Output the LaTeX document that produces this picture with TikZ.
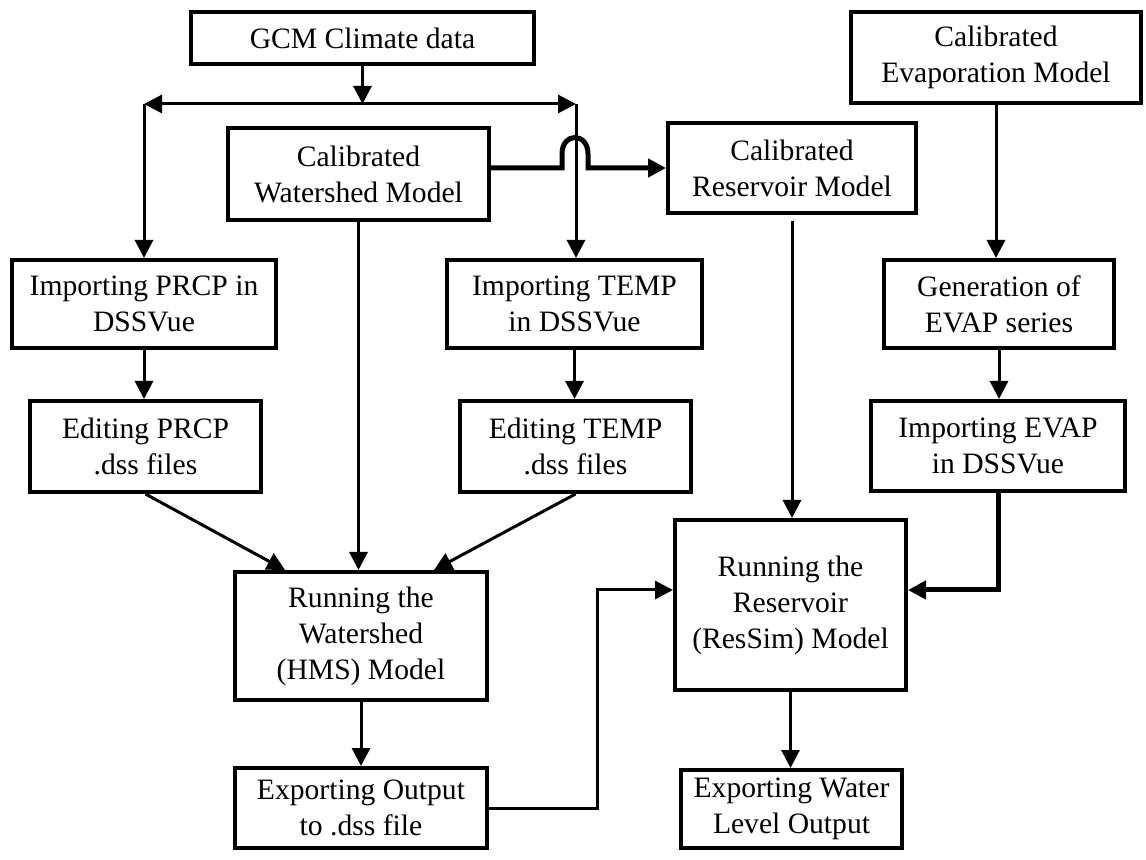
\documentclass[tikz,border=0pt]{standalone}
\usepackage{fontspec}
\setmainfont{Liberation Serif}
\usetikzlibrary{arrows.meta,calc,positioning}
\tikzset{FLOW style/.style={>={Triangle[length=9pt,width=9pt]},line width=1.5pt,
	every node/.style={font=\fontsize{14.8}{18}\selectfont}}}
\tikzset{proc/.style={draw,line width=2pt,align=center,inner sep=0pt}}
\tikzset{heavy/.style={line width=2.5pt}}

\begin{document}
\begin{tikzpicture}[x=0.5pt,y=-0.5pt,FLOW style]
	\useasboundingbox (0,0) rectangle (1146,860);

	% top row
	\node[proc,minimum width=171.5pt,minimum height=26pt] (gcm) at (362.5,38) {GCM Climate data};
	\node[proc,minimum width=145pt,minimum height=45.5pt] (evap) at (996,57.5) {Calibrated\\Evaporation Model};
	\node[proc,minimum width=130.5pt,minimum height=46pt] (wsm) at (358.5,174) {Calibrated\\Watershed Model};
	\node[proc,minimum width=124pt,minimum height=45pt] (rsm) at (792,168) {Calibrated\\Reservoir Model};

	% importing
	\node[proc,minimum width=132pt,minimum height=44pt] (prcp) at (144,304) {Importing PRCP in\\DSSVue};
	\node[proc,minimum width=127.5pt,minimum height=44pt] (temp) at (574.5,304) {Importing TEMP\\in DSSVue};
	\node[proc,minimum width=115pt,minimum height=44pt] (gen) at (999,304) {Generation of\\EVAP series};

	% editing
	\node[proc,minimum width=115.5pt,minimum height=45.5pt] (edprcp) at (145.5,446.5) {Editing PRCP\\.dss files};
	\node[proc,minimum width=115.5pt,minimum height=45.5pt] (edtemp) at (575.5,446.5) {Editing TEMP\\.dss files};
	\node[proc,minimum width=127pt,minimum height=45pt] (impevap) at (998,446) {Importing EVAP\\in DSSVue};

	% running
	\node[proc,minimum width=126pt,minimum height=64pt] (hms) at (361,636) {Running the\\Watershed\\(HMS) Model};
	\node[proc,minimum width=115.5pt,minimum height=85pt] (ressim) at (790.5,605) {Running the\\Reservoir\\(ResSim) Model};

	% exporting
	\node[proc,minimum width=126pt,minimum height=40pt] (expout) at (361,808) {Exporting Output\\to .dss file};
	\node[proc,minimum width=110.5pt,minimum height=39pt] (expwl) at (791.5,809) {Exporting Water\\Level Output};

	\coordinate (busL) at (144,104);
	\coordinate (busR) at (576,104);

	% climate data split
	\draw[->] (gcm.south) -- (gcm.south |- busL);
	\draw[<->] (busL) -- (busR);
	\draw[->] (busL) -- (prcp.north);
	\draw[->] (busR) -- (busR |- temp.north);

	% watershed to reservoir, hopping over
	\draw[->,heavy] (wsm.east |- rsm.west) -- (562,168) -- (562,154)
		.. controls (562,132) and (588,132) .. (588,154) -- (588,168) -- (rsm.west);

	\draw[->] (wsm.south) -- (wsm.south |- hms.north);
	\draw[->,shorten <=3pt] (rsm.south) -- (rsm.south |- ressim.north);
	\draw[->] (evap.south) -- (evap.south |- gen.north);

	\draw[->] (prcp.south) -- (prcp.south |- edprcp.north);
	\draw[->] (temp.south) -- (temp.south |- edtemp.north);
	\draw[->] (gen.south) -- (gen.south |- impevap.north);

	\draw[->] (edprcp.south) -- ($(hms.north)+(-76,0)$);
	\draw[->] (edtemp.south) -- ($(hms.north)+(73,0)$);
	\draw[->,heavy] (impevap.south) |- ([yshift=7.5pt]ressim.east);

	\draw[->] (hms.south) -- (expout.north);
	\draw[->] (expout.east) -- (597,808) |- ([yshift=7.5pt]ressim.west);
	\draw[->] (ressim.south) -- (ressim.south |- expwl.north);

\end{tikzpicture}
\end{document}
